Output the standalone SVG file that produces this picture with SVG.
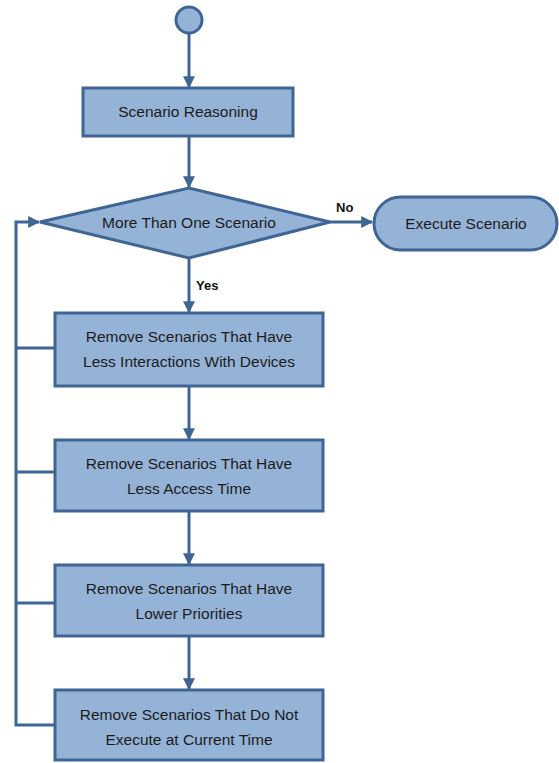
<svg xmlns="http://www.w3.org/2000/svg" width="559" height="763" viewBox="0 0 559 763">
<style>
.shape{fill:#95b3d7;stroke:#3f6595;stroke-width:3}
.line{fill:none;stroke:#3f6595;stroke-width:3}
.t{font-family:"Liberation Sans",Arial,sans-serif;font-size:15.5px;fill:#1c1c1c;text-anchor:middle}
.lbl{font-family:"Liberation Sans",Arial,sans-serif;font-size:13px;font-weight:bold;fill:#111}
</style>
<defs>
<marker id="arr" viewBox="0 0 10 10" refX="9" refY="5" markerWidth="4" markerHeight="4" orient="auto" markerUnits="strokeWidth">
<path d="M0,0 L10,5 L0,10 z" fill="#3f6595"/>
</marker>
</defs>
<g id="connectors">
<line class="line" x1="189" y1="33" x2="189" y2="87" marker-end="url(#arr)"/>
<line class="line" x1="189" y1="136" x2="189" y2="187" marker-end="url(#arr)"/>
<line class="line" x1="189" y1="259" x2="189" y2="312" marker-end="url(#arr)"/>
<line class="line" x1="189" y1="387" x2="189" y2="439" marker-end="url(#arr)"/>
<line class="line" x1="189" y1="512" x2="189" y2="564" marker-end="url(#arr)"/>
<line class="line" x1="189" y1="637" x2="189" y2="689" marker-end="url(#arr)"/>
<line class="line" x1="330" y1="222" x2="372" y2="222" marker-end="url(#arr)"/>
<polyline class="line" points="55,725 16,725 16,222 39,222" marker-end="url(#arr)"/>
<line class="line" x1="16" y1="348" x2="55" y2="348"/>
<line class="line" x1="16" y1="472" x2="55" y2="472"/>
<line class="line" x1="16" y1="603" x2="55" y2="603"/>
<text class="lbl" x="336" y="212">No</text>
<text class="lbl" x="196" y="290">Yes</text>
</g>
<g id="start">
<circle class="shape" cx="189" cy="20" r="13"/>
</g>
<g id="scenario-reasoning">
<rect class="shape" x="83" y="88" width="210" height="48"/>
<text class="t" x="188" y="117">Scenario Reasoning</text>
</g>
<g id="more-than-one">
<polygon class="shape" points="40,222 189,188 330,222 189,258"/>
<text class="t" x="189" y="228">More Than One Scenario</text>
</g>
<g id="execute-scenario">
<rect class="shape" x="374" y="197" width="183" height="53" rx="26.5" ry="26.5"/>
<text class="t" x="466" y="229">Execute Scenario</text>
</g>
<g id="remove-interactions">
<rect class="shape" x="55" y="313" width="268" height="73"/>
<text class="t" x="189" y="342">Remove Scenarios That Have</text>
<text class="t" x="189" y="367">Less Interactions With Devices</text>
</g>
<g id="remove-access">
<rect class="shape" x="55" y="440" width="268" height="71"/>
<text class="t" x="189" y="469">Remove Scenarios That Have</text>
<text class="t" x="189" y="494">Less Access  Time</text>
</g>
<g id="remove-priorities">
<rect class="shape" x="55" y="565" width="268" height="71"/>
<text class="t" x="189" y="594">Remove Scenarios That Have</text>
<text class="t" x="189" y="619">Lower Priorities</text>
</g>
<g id="remove-current-time">
<rect class="shape" x="55" y="690" width="268" height="70"/>
<text class="t" x="189" y="720">Remove Scenarios That Do Not</text>
<text class="t" x="189" y="745">Execute at Current Time</text>
</g>
</svg>
